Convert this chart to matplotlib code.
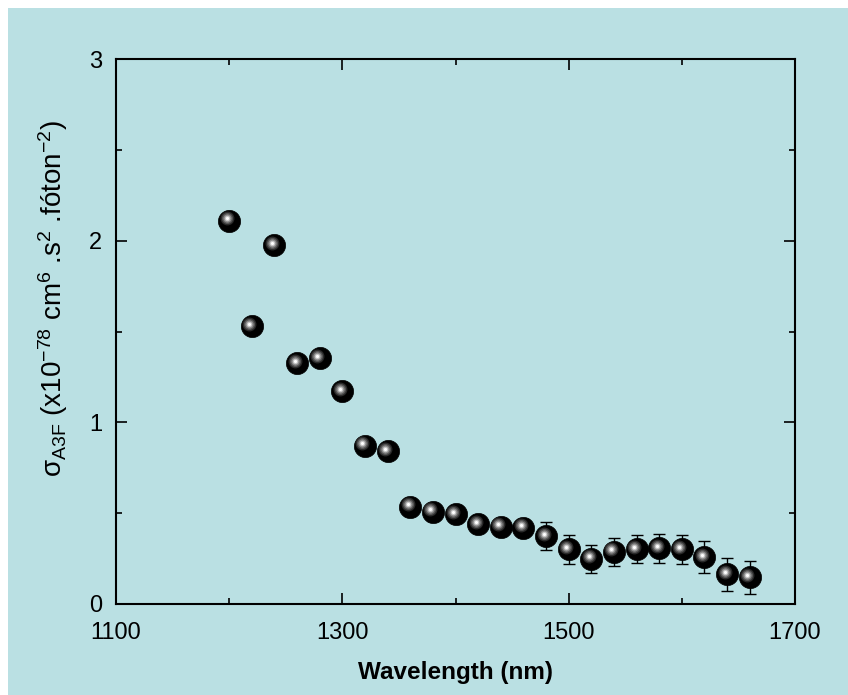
import numpy as np
import matplotlib
matplotlib.use("Agg")
import matplotlib.pyplot as plt
from matplotlib.patches import Rectangle
from matplotlib.transforms import offset_copy

plt.rcParams['font.family'] = ['Liberation Sans', 'DejaVu Sans']
plt.rcParams['mathtext.fontset'] = 'custom'
plt.rcParams['mathtext.rm'] = 'Liberation Sans'
plt.rcParams['mathtext.it'] = 'Liberation Sans'
plt.rcParams['mathtext.bf'] = 'Liberation Sans:bold'

# data
wavelength = [1200, 1220, 1240, 1260, 1280, 1300, 1320, 1340, 1360, 1380, 1400,
              1420, 1440, 1460, 1480, 1500, 1520, 1540, 1560, 1580, 1600, 1620,
              1640, 1660]
sigma = [2.11, 1.53, 1.975, 1.326, 1.354, 1.172, 0.870, 0.842, 0.534, 0.508,
         0.494, 0.439, 0.426, 0.420, 0.374, 0.301, 0.248, 0.288, 0.301, 0.307,
         0.301, 0.257, 0.163, 0.147]
err = [0.02, 0.02, 0.02, 0.02, 0.02, 0.02, 0.02, 0.02, 0.05, 0.05, 0.05,
       0.05, 0.05, 0.05, 0.079, 0.079, 0.079, 0.078, 0.078, 0.08, 0.08, 0.089,
       0.09, 0.091]

bg = '#bae0e3'

fig = plt.figure(figsize=(8.48, 6.95), dpi=100)
fig.patch.set_facecolor('white')
fig.patches.append(Rectangle((8 / 848, 0), 1 - 8 / 848, 1 - 8 / 695,
                             transform=fig.transFigure, facecolor=bg,
                             edgecolor='none', zorder=-10))

ax = fig.add_axes([116 / 848, 91 / 695, 679 / 848, 545 / 695])
ax.set_facecolor(bg)

ax.errorbar(wavelength, sigma, yerr=err, fmt='none', ecolor='black',
            elinewidth=1.0, capsize=4, capthick=1.0, zorder=2)

# sphere-like markers: black ball plus offset highlight layers
ax.plot(wavelength, sigma, 'o', ms=16, mfc='black', mec='black', mew=0.5,
        ls='none', zorder=3)
hl = offset_copy(ax.transData, fig=fig, x=-2.5, y=2.5, units='dots')
for size, col in [(10, '#2a2a2a'), (8, '#555555'), (6, '#8a8a8a'),
                  (4, '#c8c8c8'), (2.2, 'white')]:
    ax.plot(wavelength, sigma, 'o', ms=size, mfc=col, mec='none',
            ls='none', transform=hl, zorder=4)

ax.set_xlim(1100, 1700)
ax.set_ylim(0, 3)
ax.set_xticks([1100, 1300, 1500, 1700])
ax.set_xticks([1200, 1400, 1600], minor=True)
ax.set_yticks([0, 1, 2, 3])
ax.set_yticks([0.5, 1.5, 2.5], minor=True)

for s in ax.spines.values():
    s.set_linewidth(1.5)
ax.tick_params(which='both', direction='in', top=True, right=True,
               labelsize=17, width=1.2)
ax.tick_params(axis='x', which='major', pad=13)
ax.tick_params(axis='y', which='major', pad=10)
ax.tick_params(which='major', length=8)
ax.tick_params(which='minor', length=4)

ax.set_xlabel('Wavelength (nm)', fontsize=17.5, fontweight='bold', labelpad=12)
ax.set_ylabel(r'σ$_{\mathrm{A3F}}$ (x10$^{\mathrm{-78}}$ cm$^{\mathrm{6}}$ .s$^{\mathrm{2}}$ .fóton$^{\mathrm{-2}}$)',
              fontsize=20)
ax.yaxis.set_label_coords(-0.068, 0.56)

fig.savefig('out.png', dpi=100, facecolor=fig.get_facecolor())
